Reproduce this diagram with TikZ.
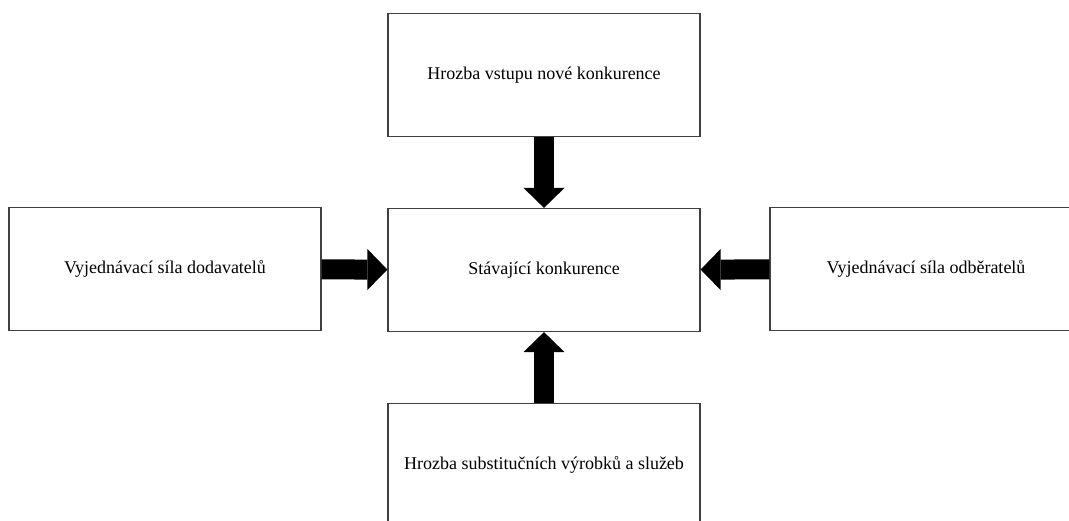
\documentclass[tikz,border=0pt]{standalone}
\usepackage{fontspec}
\setmainfont{Liberation Serif}
\usepackage{tikz}
\usetikzlibrary{arrows.meta}

\begin{document}
\begin{tikzpicture}[
  x=1pt, y=-1pt,
  force/.style={rectangle, draw=black!75, line width=1.2pt, minimum width=312pt, minimum height=123pt, inner sep=0pt, font=\fontsize{18}{22}\selectfont},
  push/.style={line width=20pt, -{Triangle[length=20pt, width=41pt, line width=0pt]}}
]
  \useasboundingbox (0,0) rectangle (1069,521);
  \clip (0,0) rectangle (1069,521);

  \node[force] (rival) at (544,270) {Stávající konkurence};
  \node[force] (entry) at (544,75) {Hrozba vstupu nové konkurence};
  \node[force] (supply) at (165,269) {Vyjednávací síla dodavatelů};
  \node[force] (buyer) at (926,269) {Vyjednávací síla odběratelů};
  \node[force] (subst) at (544,465) {Hrozba substitučních výrobků a služeb};

  \draw[push] (entry) -- (rival);
  \draw[push] (supply) -- (rival);
  \draw[push] (buyer) -- (rival);
  \draw[push] (subst) -- (rival);
\end{tikzpicture}
\end{document}
